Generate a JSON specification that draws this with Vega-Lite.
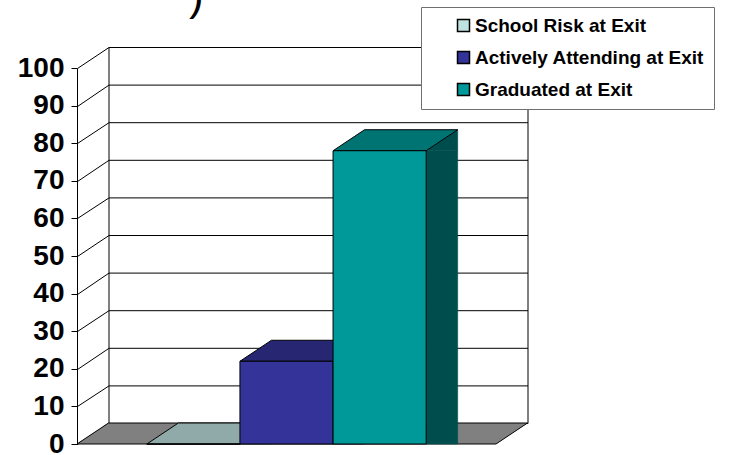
{
  "$schema": "https://vega.github.io/schema/vega-lite/v6.json",
  "width": 419,
  "height": 376,
  "autosize": {"type": "none"},
  "padding": {"left": 77, "top": 68, "right": 239, "bottom": 11},
  "background": "white",
  "config": {"view": {"stroke": null}, "font": "Liberation Sans"},
  "title": {
    "text": ")",
    "anchor": "start",
    "frame": "group",
    "dx": 112,
    "fontSize": 44,
    "fontWeight": "normal",
    "font": "Liberation Sans",
    "color": "black",
    "baseline": "alphabetic",
    "offset": -47
  },
  "data": {
    "values": [
      {"series": "School Risk at Exit", "value": 0},
      {"series": "Actively Attending at Exit", "value": 22},
      {"series": "Graduated at Exit", "value": 78}
    ]
  },
  "encoding": {
    "x": {
      "field": "series",
      "type": "nominal",
      "scale": {
        "domain": ["School Risk at Exit", "Actively Attending at Exit", "Graduated at Exit"],
        "paddingInner": 0,
        "paddingOuter": 0.75
      },
      "axis": null
    },
    "y": {
      "field": "value",
      "type": "quantitative",
      "scale": {"domain": [0, 100], "nice": false},
      "axis": null
    }
  },
  "layer": [
    {
      "transform": [{"filter": {"field": "series", "equal": "Actively Attending at Exit"}}],
      "mark": {
        "type": "point",
        "shape": "M-2.095,0L2.095,0L2.41,-0.21L-1.78,-0.21Z",
        "size": 40000,
        "filled": true,
        "opacity": 1,
        "fill": "#808080",
        "stroke": "black",
        "strokeWidth": 1
      },
      "encoding": {
        "y": {
          "datum": 0,
          "type": "quantitative",
          "axis": {
            "orient": "left",
            "title": null,
            "labels": false,
            "domain": true,
            "ticks": true,
            "grid": true,
            "tickCount": 10,
            "tickColor": "black",
            "gridColor": "black",
            "domainColor": "black",
            "encoding": {
              "grid": {
                "x": {"value": 31.5},
                "x2": {"value": {"expr": "width + 31.5"}},
                "y": {"value": {"expr": "scale('y', datum.value) - 21"}}
              },
              "ticks": {
                "x": {"value": 0},
                "x2": {"value": 31.5},
                "y2": {"value": {"expr": "scale('y', datum.value) - 21"}}
              },
              "domain": {
                "x": {"value": 31.5},
                "x2": {"value": 31.5},
                "y": {"value": -21},
                "y2": {"value": {"expr": "height - 21"}}
              }
            }
          }
        }
      }
    },
    {
      "mark": {"type": "bar", "width": 31.5, "xOffset": 62.3, "y2Offset": -21, "strokeWidth": 0.6},
      "encoding": {
        "fill": {
          "field": "series",
          "type": "nominal",
          "scale": {"domain": ["School Risk at Exit", "Actively Attending at Exit", "Graduated at Exit"], "range": ["#5F7170", "#1A1A4D", "#004D4D"]},
          "legend": null
        },
        "stroke": {
          "field": "series",
          "type": "nominal",
          "scale": {"domain": ["School Risk at Exit", "Actively Attending at Exit", "Graduated at Exit"], "range": ["#5F7170", "#1A1A4D", "#004D4D"]},
          "legend": null
        },
        "y": {
          "field": "value",
          "type": "quantitative",
          "axis": {
            "orient": "right",
            "title": null,
            "labels": false,
            "ticks": false,
            "grid": false,
            "domain": true,
            "domainColor": "black",
            "encoding": {
              "domain": {
                "x": {"value": 31.5},
                "x2": {"value": 31.5},
                "y": {"value": -21},
                "y2": {"value": {"expr": "height - 21"}}
              }
            }
          }
        }
      }
    },
    {
      "mark": {
        "type": "point",
        "shape": "M0.4656,0L0.7806,-0.21L0.7806,0Z",
        "size": 40000,
        "filled": true,
        "opacity": 1,
        "strokeWidth": 0.6
      },
      "encoding": {
        "fill": {
          "field": "series",
          "type": "nominal",
          "scale": {"domain": ["School Risk at Exit", "Actively Attending at Exit", "Graduated at Exit"], "range": ["#5F7170", "#1A1A4D", "#004D4D"]},
          "legend": null
        },
        "stroke": {
          "field": "series",
          "type": "nominal",
          "scale": {"domain": ["School Risk at Exit", "Actively Attending at Exit", "Graduated at Exit"], "range": ["#5F7170", "#1A1A4D", "#004D4D"]},
          "legend": null
        }
      }
    },
    {
      "mark": {
        "type": "point",
        "shape": "M0.4656,-0.21L0.4656,0L0.7806,-0.21Z",
        "size": 40000,
        "filled": true,
        "opacity": 1,
        "strokeWidth": 0.6
      },
      "encoding": {
        "y": {"datum": 0, "type": "quantitative", "axis": null},
        "fill": {
          "field": "series",
          "type": "nominal",
          "scale": {"domain": ["School Risk at Exit", "Actively Attending at Exit", "Graduated at Exit"], "range": ["#5F7170", "#1A1A4D", "#004D4D"]},
          "legend": null
        },
        "stroke": {
          "field": "series",
          "type": "nominal",
          "scale": {"domain": ["School Risk at Exit", "Actively Attending at Exit", "Graduated at Exit"], "range": ["#5F7170", "#1A1A4D", "#004D4D"]},
          "legend": null
        }
      }
    },
    {
      "mark": {
        "type": "point",
        "shape": "M-0.4656,0L0.4656,0L0.7806,-0.21L-0.1506,-0.21Z",
        "size": 40000,
        "filled": true,
        "opacity": 1,
        "stroke": "black",
        "strokeWidth": 1
      },
      "encoding": {
        "fill": {
          "field": "series",
          "type": "nominal",
          "scale": {"domain": ["School Risk at Exit", "Actively Attending at Exit", "Graduated at Exit"], "range": ["#8FAAA8", "#262673", "#007373"]},
          "legend": null
        }
      }
    },
    {
      "mark": {"type": "bar", "stroke": "black", "strokeWidth": 1},
      "encoding": {
        "color": {
          "field": "series",
          "type": "nominal",
          "scale": {"domain": ["School Risk at Exit", "Actively Attending at Exit", "Graduated at Exit"], "range": ["#BFE3E0", "#333399", "#009999"]},
          "legend": {
            "orient": "none",
            "legendX": 344,
            "legendY": -61,
            "title": null,
            "fillColor": "white",
            "strokeColor": "#707070",
            "padding": 9,
            "symbolType": "square",
            "symbolSize": 144,
            "symbolStrokeColor": "black",
            "symbolOffset": 24,
            "labelOffset": 2,
            "labelFont": "Liberation Sans",
            "labelFontWeight": "bold",
            "labelFontSize": 19,
            "labelColor": "black",
            "labelLimit": 400,
            "rowPadding": 12
          }
        },
        "y": {
          "field": "value",
          "type": "quantitative",
          "axis": {
            "orient": "left",
            "title": null,
            "tickCount": 10,
            "grid": false,
            "domain": true,
            "domainColor": "black",
            "ticks": true,
            "tickSize": 6,
            "tickColor": "black",
            "labelFont": "Liberation Sans",
            "labelFontWeight": "bold",
            "labelFontSize": 28,
            "labelColor": "black",
            "labelPadding": 7,
            "labelFlush": false,
            "labelOverlap": false
          }
        }
      }
    }
  ],
  "resolve": {
    "scale": {"fill": "independent", "stroke": "independent"},
    "axis": {"y": "independent"}
  }
}
